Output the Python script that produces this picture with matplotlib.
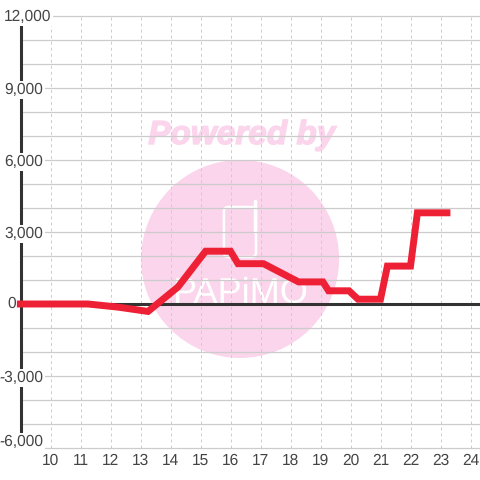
import matplotlib
matplotlib.use("Agg")
import matplotlib.pyplot as plt
import matplotlib.patheffects as pe
from matplotlib.patches import Ellipse, FancyBboxPatch

plt.rcParams['font.family'] = ['Liberation Sans', 'DejaVu Sans']
plt.rcParams['text.hinting'] = 'no_hinting'

# values
x_vals = [8.88, 11.25, 12.25, 13.25, 14.25, 15.17, 16.0, 16.25, 17.1, 18.27, 19.08, 19.27, 19.95, 20.25, 21.0, 21.23, 22.0, 22.23, 23.33]
y_vals = [0, 0, -130, -310, 710, 2200, 2200, 1680, 1680, 920, 920, 550, 550, 200, 200, 1580, 1580, 3800, 3800]

x_ticks = list(range(10, 25))
y_major = [12000, 9000, 6000, 3000, 0, -3000, -6000]
y_minor = list(range(-6000, 12001, 1000))
y_labels = ['12,000', '9,000', '6,000', '3,000', '0', '-3,000', '-6,000']
# label nudges in pixels, the top and bottom ones sit inside the plot area
y_label_dx = [31, 23, 23, 23, -4, 23, 23]
y_label_dy = [-1, -2, -2, -2, 0, -2, 6]

PINK = '#fbd5ec'
DARK = '#333333'
TXT = '#444444'
RED = '#ee2035'
GRID = '#cccccc'

fig = plt.figure(figsize=(4.8, 4.8), dpi=100)
ax = fig.add_axes([20.5 / 480, (480 - 448) / 480, (480 - 20.5) / 480, 432 / 480])
ax.set_xlim(9, 9 + (480 - 20.5) / 30)
ax.set_ylim(-6000, 12000)

for s in ax.spines.values():
    s.set_visible(False)
ax.set_xticks([])
ax.set_yticks([])

# --- watermark ---
ax.add_patch(Ellipse((16.32, 1875), 198 / 30, 198 / 24 * 1000, fc=PINK, ec='none', zorder=0))
ax.text(16.38, 6667, 'Powered by', color=PINK, fontsize=24, fontweight='bold', fontstyle='italic',
        ha='center', va='baseline', zorder=0,
        path_effects=[pe.withStroke(linewidth=1, foreground=PINK)])
ax.add_patch(FancyBboxPatch((15.78, 1958), 1.07, 2084, boxstyle='round,pad=0,rounding_size=0.15',
                            fc='none', ec='white', lw=1.8, mutation_aspect=1250, zorder=0.5))
ax.plot([16.8, 16.8], [3000, 4300], color='white', lw=2.5, solid_capstyle='round', zorder=0.5)
ax.text(16.3, 450, 'PAPiMO', color='white', fontsize=26, ha='center', va='center', zorder=0.5)

# --- grid ---
for v in y_minor:
    ax.axhline(v, color=GRID, lw=0.9, zorder=1, clip_on=False)
for v in x_ticks:
    ax.axvline(v, color=GRID, lw=0.7, ls=(0, (3, 3.2)), zorder=1)

# --- axis lines ---
ax.axvline(9, color=DARK, lw=2.2, zorder=2, clip_on=False)
ax.axhline(0, color=DARK, lw=2.2, zorder=2, clip_on=False)

ax.plot(x_vals, y_vals, color=RED, lw=5, solid_joinstyle='miter', solid_capstyle='butt', zorder=6, clip_on=False)

# --- labels ---
for v, lab, dx, dy in zip(y_major, y_labels, y_label_dx, y_label_dy):
    bg = dict(fc='white', ec='none', pad=1) if v != 0 else None
    ax.annotate(lab, xy=(9, v), xytext=(dx, dy), textcoords='offset pixels', ha='right', va='center',
                fontsize=11.2, color=TXT, annotation_clip=False, zorder=5, bbox=bg)
for v in x_ticks:
    ax.annotate(str(v), xy=(v, -6000), xytext=(0, -13), textcoords='offset pixels', ha='center', va='center',
                fontsize=11.2, color=TXT, annotation_clip=False)

fig.savefig('out.png', dpi=100)
